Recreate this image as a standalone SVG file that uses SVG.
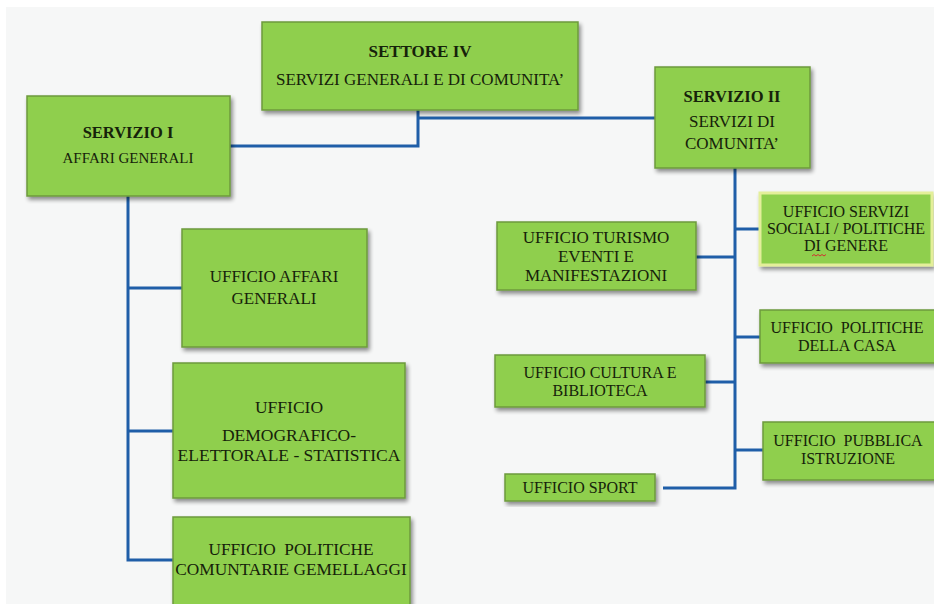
<svg xmlns="http://www.w3.org/2000/svg" width="934" height="604" viewBox="0 0 934 604">
<defs>
<filter id="sh" x="-10%" y="-10%" width="125%" height="130%">
<feGaussianBlur in="SourceAlpha" stdDeviation="2"/>
<feOffset dx="2" dy="3" result="b"/>
<feComponentTransfer><feFuncA type="linear" slope="0.45"/></feComponentTransfer>
<feMerge><feMergeNode/><feMergeNode in="SourceGraphic"/></feMerge>
</filter>
</defs>
<style>
.box{fill:#8fcf4e;stroke:#6e9a3c;stroke-width:1.5;filter:url(#sh)}
.glow{stroke:#e4ef9a;stroke-width:3}
.t{font-family:"Liberation Serif","Times New Roman",serif;font-size:17px;fill:#16220a;text-anchor:middle;white-space:pre}
.s{font-size:16px}
.r{font-size:15px}
.b{font-weight:bold;font-size:16.5px}
.c{fill:none;stroke:#1f5ea8;stroke-width:3}
</style>
<rect x="0" y="0" width="934" height="604" fill="#ffffff"/>
<rect x="6" y="7" width="928" height="597" fill="#f6f7f7"/>
<g id="connectors">
<polyline class="c" points="230,146 418,146 418,110"/>
<polyline class="c" points="418,118 655,118"/>
<polyline class="c" points="735,168 735,488 663,488"/>
<line class="c" x1="696" y1="257" x2="735" y2="257"/>
<line class="c" x1="735" y1="229" x2="760" y2="229"/>
<line class="c" x1="735" y1="337" x2="760" y2="337"/>
<line class="c" x1="705" y1="382" x2="735" y2="382"/>
<line class="c" x1="735" y1="450" x2="763" y2="450"/>
<polyline class="c" points="128,196 128,560 173,560"/>
<line class="c" x1="128" y1="288" x2="182" y2="288"/>
<line class="c" x1="128" y1="431" x2="173" y2="431"/>
</g>
<g id="settore">
<rect class="box" x="262" y="22" width="316" height="88"/>
<text class="t b" x="420" y="57" style="font-size:17px">SETTORE IV</text>
<text class="t" x="420" y="85">SERVIZI GENERALI E DI COMUNITA’</text>
</g>
<g id="servizio1">
<rect class="box" x="27" y="96" width="203" height="100"/>
<text class="t b" x="128" y="138">SERVIZIO I</text>
<text class="t r" x="128" y="163">AFFARI GENERALI</text>
</g>
<g id="servizio2">
<rect class="box" x="655" y="67" width="155" height="101"/>
<text class="t b" x="732" y="102">SERVIZIO II</text>
<text class="t" x="732" y="127">SERVIZI DI</text>
<text class="t" x="732" y="149">COMUNITA’</text>
</g>
<g id="affari">
<rect class="box" x="182" y="229" width="185" height="118"/>
<text class="t" x="274" y="282">UFFICIO AFFARI</text>
<text class="t" x="274" y="304">GENERALI</text>
</g>
<g id="demografico">
<rect class="box" x="173" y="363" width="232" height="135"/>
<text class="t" x="289" y="413" style="font-size:17.5px">UFFICIO</text>
<text class="t" x="289" y="441" style="font-size:17.5px">DEMOGRAFICO-</text>
<text class="t" x="289" y="461" style="font-size:17.5px">ELETTORALE - STATISTICA</text>
</g>
<g id="comunitarie">
<rect class="box" x="173" y="517" width="237" height="90"/>
<text class="t" x="291" y="555" style="font-size:17.3px">UFFICIO  POLITICHE</text>
<text class="t" x="291" y="575" style="font-size:17.3px">COMUNTARIE GEMELLAGGI</text>
</g>
<g id="turismo">
<rect class="box" x="497" y="222" width="199" height="68"/>
<text class="t" x="596" y="243">UFFICIO TURISMO</text>
<text class="t" x="596" y="262">EVENTI E</text>
<text class="t" x="596" y="281">MANIFESTAZIONI</text>
</g>
<g id="sociali">
<rect class="box glow" x="760" y="193" width="172" height="72"/>
<text class="t s" x="846" y="217">UFFICIO SERVIZI</text>
<text class="t s" x="846" y="234">SOCIALI / POLITICHE</text>
<text class="t s" x="846" y="251">DI GENERE</text>
<polyline points="812,256 814,254.5 816,256 818,254.5 820,256 822,254.5 824,256 826,254.5" fill="none" stroke="#d03030" stroke-width="1"/>
</g>
<g id="casa">
<rect class="box" x="760" y="310" width="176" height="53"/>
<text class="t s" x="847" y="333">UFFICIO  POLITICHE</text>
<text class="t s" x="847" y="351">DELLA CASA</text>
</g>
<g id="cultura">
<rect class="box" x="495" y="355" width="210" height="52"/>
<text class="t s" x="600" y="378">UFFICIO CULTURA E</text>
<text class="t s" x="600" y="396">BIBLIOTECA</text>
</g>
<g id="pubblica">
<rect class="box" x="763" y="422" width="173" height="58"/>
<text class="t s" x="848" y="446">UFFICIO  PUBBLICA</text>
<text class="t s" x="848" y="464">ISTRUZIONE</text>
</g>
<g id="sport">
<rect class="box" x="505" y="474" width="150" height="27"/>
<text class="t s" x="580" y="493">UFFICIO SPORT</text>
</g>
</svg>
